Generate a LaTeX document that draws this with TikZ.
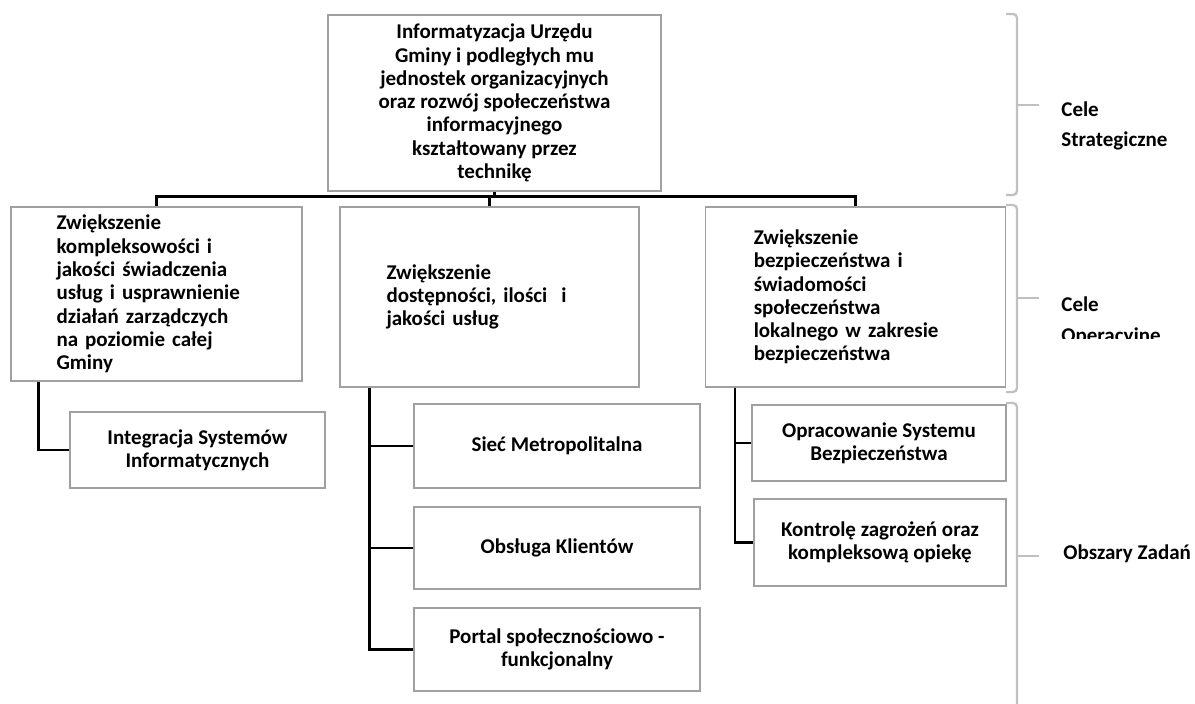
\documentclass[tikz,border=0pt]{standalone}
\usepackage{fontspec}
\setmainfont{Carlito}
\usetikzlibrary{calc}
\definecolor{boxgray}{HTML}{A0A0A0}
\definecolor{brgray}{HTML}{C0C0C0}
\begin{document}
\begin{tikzpicture}[x=0.5pt,y=-0.5pt,
  every node/.style={font=\bfseries\fontsize{10.5pt}{11.65pt}\selectfont, inner sep=0pt},
  box/.style={draw=boxgray, line width=0.75pt, fill=white},
  conn/.style={draw=black, line width=1.35pt},
  brk/.style={draw=brgray, line width=1.15pt, rounded corners=2pt},
  lbl/.style={anchor=base west}]
\useasboundingbox (0,0) rectangle (1195,704);

% main boxes
\node[box, minimum width=166.5pt, minimum height=88pt, align=center] (T) at (494.5,103)
  {Informatyzacja Urzędu\\Gminy i podległych mu\\jednostek organizacyjnych\\oraz rozwój społeczeństwa\\informacyjnego\\kształtowany przez\\technikę};
\node[box, minimum width=145.5pt, minimum height=87pt, text width=100pt, align=left] (L) at (156.5,294)
  {Zwiększenie\\kompleksowości i\\jakości świadczenia\\usług i usprawnienie\\działań zarządczych\\na poziomie całej\\Gminy};
\node[box, minimum width=149.5pt, minimum height=90pt, text width=103pt, align=left] (M) at (489.5,297)
  {Zwiększenie\\dostępności, ilości~~i\\jakości usług};
\node[box, minimum width=150pt, minimum height=90pt, text width=101.5pt, align=left] (R) at (855.25,297)
  {Zwiększenie\\bezpieczeństwa i\\świadomości\\społeczeństwa\\lokalnego w zakresie\\bezpieczeństwa};

% sub boxes
\node[box, minimum width=127.5pt, minimum height=38pt, align=center] (I) at (197.5,450)
  {Integracja Systemów\\Informatycznych};
\node[box, minimum width=143pt, minimum height=42pt, align=center] (S1) at (557,446)
  {Sieć Metropolitalna};
\node[box, minimum width=143pt, minimum height=41pt, align=center] (S2) at (557,548)
  {Obsługa Klientów};
\node[box, minimum width=143pt, minimum height=41.5pt, align=center] (S3) at (557,649.5)
  {Portal społecznościowo -\\funkcjonalny};
\node[box, minimum width=127pt, minimum height=38pt, align=center] (O1) at (879,443)
  {Opracowanie Systemu\\Bezpieczeństwa};
\node[box, minimum width=126pt, minimum height=43.5pt, align=center] (O2) at (880,542.5)
  {Kontrolę zagrożeń oraz\\kompleksową opiekę};

% upper connectors
\draw[conn] (T.south) -- ++(0,6);
\draw[conn] (L.north) -- ++(0,-10) -| (R.north);
\draw[conn] (M.north) -- ++(0,-10);

% lower connectors
\coordinate (lv) at ($(L.south west)+(28,0)$);
\draw[conn] (lv) |- (I.west);
\coordinate (mv) at ($(M.south west)+(30,0)$);
\draw[conn] (mv) |- (S3.west);
\draw[conn] (S1.west) -- (S1.west -| mv);
\draw[conn] (S2.west) -- (S2.west -| mv);
\coordinate (rv) at ($(R.south west)+(30.5,0)$);
\draw[conn] (rv) |- (O2.west);
\draw[conn] (O1.west) -- (O1.west -| rv);

% brackets
\draw[brk] (1006,14) -- (1017,14) -- (1017,195) -- (1006,195);
\draw[brk] (1017,105) -- (1039,105);
\draw[brk] (1006,205) -- (1017,205) -- (1017,392) -- (1006,392);
\draw[brk] (1017,298) -- (1039,298);
\draw[brk] (1006,403) -- (1017,403) -- (1017,710);
\draw[brk] (1017,556) -- (1039,556);

% labels
\node[lbl] (c1) at (1061,117) {Cele};
\node[lbl] (c1b) at (1061,147) {Strategiczne};
\node[lbl] (c2) at (1061,312) {Cele};
\begin{scope}
  \clip (1050,320) rectangle (1195,339);
  \node[lbl] (c2b) at (1061,343) {Operacyjne};
\end{scope}
\node[lbl] (c3) at (1063,560) {Obszary Zadań};
\end{tikzpicture}
\end{document}
